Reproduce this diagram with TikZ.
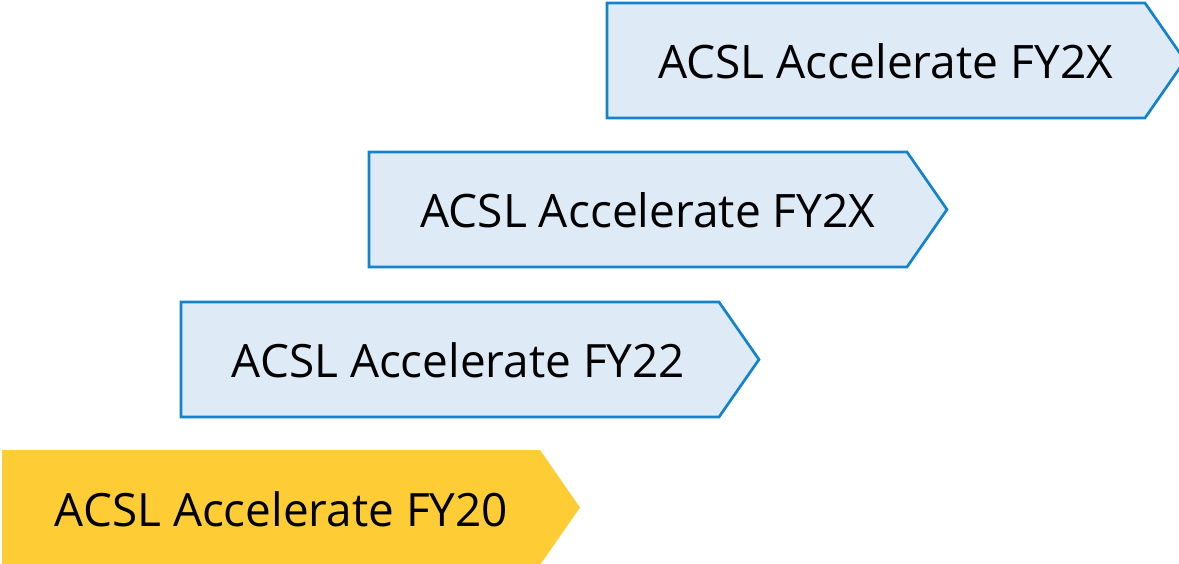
\documentclass[tikz,border=0pt]{standalone}
\usepackage{fontspec}
\setmainfont{Open Sans}
\definecolor{edgeblue}{HTML}{1383CC}
\definecolor{paleblue}{HTML}{DEEAF6}
\definecolor{gold}{HTML}{FECD35}
\begin{document}
\begin{tikzpicture}[x=1pt,y=-1pt,
  bluechev/.style={fill=paleblue,draw=edgeblue,line width=2.7pt,line join=miter},
  goldchev/.style={fill=gold},
  lbl/.style={anchor=base,inner sep=0pt,font=\fontsize{44}{48}\selectfont}]
\useasboundingbox (0,0) rectangle (1179,563);
\clip (0,0) rectangle (1179,563);
% chevron geometry: width body 538, tip 40, height 115
\newcommand{\chevpath}[2]{(#1,#2) -- ++(538,0) -- ++(40,57.5) -- ++(-40,57.5) -- ++(-538,0) -- cycle}
\draw[goldchev,draw=none] \chevpath{2}{450};
\draw[bluechev] \chevpath{181}{302};
\draw[bluechev] \chevpath{369}{152};
\draw[bluechev] \chevpath{607}{3};
\node[lbl] (t4) at (281.5,526) {\resizebox{453pt}{!}{ACSL Accelerate FY20}};
\node[lbl] (t3) at (458.5,377) {\resizebox{453pt}{!}{ACSL Accelerate FY22}};
\node[lbl] (t2) at (648,227) {\resizebox{455pt}{!}{ACSL Accelerate FY2X}};
\node[lbl] (t1) at (885.5,78) {\resizebox{455pt}{!}{ACSL Accelerate FY2X}};
\end{tikzpicture}
\end{document}
